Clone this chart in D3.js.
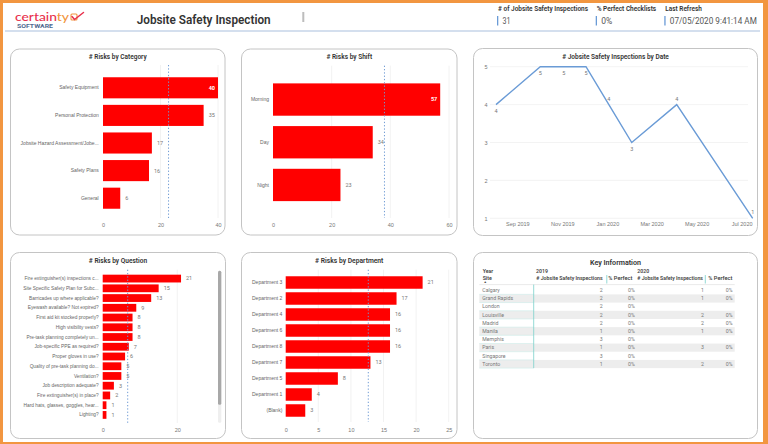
<!DOCTYPE html>
<html><head><meta charset="utf-8">
<script src="https://cdn.jsdelivr.net/npm/d3@7"></script>
<style>
html,body{margin:0;padding:0;background:#fff;overflow:hidden}
svg{display:block;font-family:"Segoe UI",Roboto,"Open Sans",sans-serif}
</style></head><body>
<svg id="c" width="768" height="444"></svg>
<script>
// ---------------- DATA ----------------
const reportTitle = "Jobsite Safety Inspection";
const kpiLabels = ["# of Jobsite Safety Inspections", "% Perfect Checklists", "Last Refresh"];
const kpiValues = ["31", "0%", "07/05/2020 9:41:14 AM"];

const categoryNames = ["Safety Equipment", "Personal Protection", "Jobsite Hazard Assessment/Jobe...", "Safety Plans", "General"];
const categoryRisks = [40, 35, 17, 16, 6];
const categoryTicks = [0, 20, 40];

const shiftNames = ["Morning", "Day", "Night"];
const shiftRisks = [57, 34, 23];
const shiftTicks = [0, 20, 40, 60];

const inspectionDates = ["2019-08-03", "2019-10-02", "2019-11-03", "2019-12-03", "2020-01-03", "2020-02-03", "2020-04-04", "2020-07-16"];
const inspectionCounts = [4, 5, 5, 5, 4, 3, 4, 1];
const dateTicks = ["2019-09-01", "2019-11-01", "2020-01-01", "2020-03-01", "2020-05-01", "2020-07-01"];
const dateTickLabels = ["Sep 2019", "Nov 2019", "Jan 2020", "Mar 2020", "May 2020", "Jul 2020"];
const countTicks = [1, 2, 3, 4, 5];

const questionNames = ["Fire extinguisher(s) inspections c...", "Site Specific Safety Plan for Subc...", "Barricades up where applicable?", "Eyewash available? Not expired?", "First aid kit stocked properly?", "High visibility vests?", "Pre-task planning completely un...", "Job-specific PPE as required?", "Proper gloves in use?", "Quality of pre-task planning do...", "Ventilation?", "Job description adequate?", "Fire extinguisher(s) in place?", "Hard hats, glasses, goggles, hear...", "Lighting?"];
const questionRisks = [21, 15, 13, 9, 8, 8, 8, 7, 6, 5, 5, 3, 2, 1, 1];
const questionTicks = [0, 20];
const questionAverage = 6.7; // average over all questions, including rows hidden below the scroll

const departmentNames = ["Department 3", "Department 2", "Department 4", "Department 6", "Department 8", "Department 7", "Department 5", "Department 1", "(Blank)"];
const departmentRisks = [21, 17, 16, 16, 16, 13, 8, 4, 3];
const departmentTicks = [0, 5, 10, 15, 20, 25];

const tableYears = ["2019", "2020"];
const siteNames = ["Calgary", "Grand Rapids", "London", "Louisville", "Madrid", "Manila", "Memphis", "Paris", "Singapore", "Toronto"];
const inspections2019 = [2, 2, 2, 2, 2, 1, 3, 1, 3, 1];
const perfect2019 = ["0%", "0%", "0%", "0%", "0%", "0%", "0%", "0%", "0%", "0%"];
const inspections2020 = [1, 1, null, 2, 2, 1, null, 3, null, 2];
const perfect2020 = ["0%", "0%", null, "0%", "0%", "0%", null, "0%", null, "0%"];

// ---------------- DRAW ----------------
const svg = d3.select("#c");
const RED = "#FF0000", BLUE = "#6A9BD6", ORANGE = "#F29640";

svg.append("rect").attr("width", 768).attr("height", 444).attr("fill", ORANGE);
svg.append("rect").attr("x", 3).attr("y", 3).attr("width", 760).attr("height", 439).attr("fill", "#fff");

function fitText(sel, w) { sel.attr("textLength", w).attr("lengthAdjust", "spacingAndGlyphs"); return sel; }

// ----- header -----
const logo = svg.append("text").attr("x", 15).attr("y", 20.6).attr("font-size", 12).attr("font-weight", 500)
  .attr("font-family", "Lato, Roboto, sans-serif");
logo.append("tspan").attr("fill", "#E8304C").text("certain");
logo.append("tspan").attr("fill", ORANGE).text("ty");
fitText(logo, 54);
svg.append("rect").attr("x", 71).attr("y", 14).attr("width", 6).attr("height", 6).attr("rx", 1)
  .attr("fill", "none").attr("stroke", ORANGE).attr("stroke-width", 1.1);
svg.append("path").attr("d", "M72,16.5 L74.5,19.5 L83.5,12.5").attr("fill", "none")
  .attr("stroke", "#E8304C").attr("stroke-width", 1.5).attr("stroke-linecap", "round");
fitText(svg.append("text").attr("x", 17).attr("y", 28.2).attr("font-size", 4.6).attr("font-weight", 700)
  .attr("fill", "#50698F").text("SOFTWARE"), 36);

fitText(svg.append("text").attr("x", 136.7).attr("y", 24).attr("font-size", 13).attr("font-weight", 600)
  .attr("fill", "#333").text(reportTitle), 134);
svg.append("rect").attr("x", 302.3).attr("y", 12).attr("width", 2).attr("height", 10).attr("fill", "#bdbdbd");

const kpiX = [497, 595.7, 664.3];
const kpiLabelW = [90, 59.5, 36.5];
const kpiValueW = [8, 11, 87];
kpiLabels.forEach((t, i) => {
  fitText(svg.append("text").attr("x", kpiX[i] + 1).attr("y", 11.2).attr("font-size", 6.5).attr("font-weight", 600)
    .attr("fill", "#333").text(t), kpiLabelW[i]);
  svg.append("rect").attr("x", kpiX[i]).attr("y", 16).attr("width", 1.3).attr("height", 9.5).attr("fill", BLUE);
  fitText(svg.append("text").attr("x", kpiX[i] + 5.5).attr("y", 24).attr("font-size", 8.5)
    .attr("fill", "#555").text(kpiValues[i]), kpiValueW[i]);
});
svg.append("line").attr("x1", 5).attr("x2", 760).attr("y1", 31).attr("y2", 31)
  .attr("stroke", "#A9BFDD").attr("stroke-width", 1.2);

// ----- panels -----
function panel(x, y, w, h, title, titleW, titleY) {
  svg.append("rect").attr("x", x).attr("y", y).attr("width", w).attr("height", h).attr("rx", 9)
    .attr("fill", "#fff").attr("stroke", "#c4c4c4").attr("stroke-width", 1);
  fitText(svg.append("text").attr("x", x + w / 2 - titleW / 2).attr("y", titleY).attr("dy", "0.35em")
    .attr("font-size", 7.5).attr("font-weight", 600).attr("fill", "#333").text(title), titleW);
}
panel(10.5, 49, 214.5, 186, "# Risks by Category", 58, 56.7);
panel(241.5, 49, 215.5, 186, "# Risks by Shift", 45.7, 56.7);
panel(473.5, 48.5, 284, 187, "# Jobsite Safety Inspections by Date", 106.7, 56.7);
panel(10.5, 252.5, 215, 186, "# Risks by Question", 58.3, 260.7);
panel(241.5, 252.5, 215.5, 186, "# Risks by Department", 68.3, 260.7);
panel(473.5, 252.5, 284, 186, "Key Information", 51, 262);

// ----- bar charts -----
function barChart(o) {
  const g = svg.append("g");
  const x = d3.scaleLinear().domain([0, o.ticks[o.ticks.length - 1]]).range([o.x0, o.xMax]);
  const y = d3.scaleBand().domain(o.names).range([o.yTop, o.yBot]).paddingInner(o.pad).paddingOuter(o.pad / 2);
  g.selectAll("line.grid").data(o.ticks.slice(1)).join("line").attr("class", "grid")
    .attr("x1", d => x(d)).attr("x2", d => x(d)).attr("y1", o.avgTop).attr("y2", o.avgBot)
    .attr("stroke", "#efefef").attr("stroke-width", 0.8);
  g.selectAll("rect.bar").data(o.values).join("rect").attr("class", "bar")
    .attr("x", x(0)).attr("y", (d, i) => y(o.names[i]))
    .attr("width", d => x(d) - x(0)).attr("height", y.bandwidth()).attr("fill", RED);
  const ya = g.append("g").attr("transform", `translate(${o.x0},0)`)
    .call(d3.axisLeft(y).tickSize(0).tickPadding(o.x0 - o.labelRight));
  ya.select(".domain").remove();
  ya.selectAll("text").attr("font-size", o.fs).attr("fill", "#666").attr("font-family", null);
  const xa = g.append("g").attr("transform", `translate(0,${o.tickY})`)
    .call(d3.axisBottom(x).tickValues(o.ticks).tickSize(0).tickPadding(0));
  xa.select(".domain").remove();
  xa.selectAll("text").attr("y", 0).attr("dy", "0.35em").attr("font-size", 5.5).attr("fill", "#777").attr("font-family", null);
  g.selectAll("text.val").data(o.values).join("text").attr("class", "val")
    .each(function (d, i) {
      const inside = x(d) + 16 > o.plotRight;
      d3.select(this).attr("x", inside ? x(d) - 3 : x(d) + 5)
        .attr("y", y(o.names[i]) + y.bandwidth() / 2).attr("dy", "0.35em")
        .attr("text-anchor", inside ? "end" : "start")
        .attr("font-size", 5.5).attr("font-weight", inside ? 700 : 400)
        .attr("fill", inside ? "#fff" : "#777").text(d);
    });
  g.append("line").attr("x1", x(o.avg)).attr("x2", x(o.avg)).attr("y1", o.avgTop).attr("y2", o.avgBot)
    .attr("stroke", "#6F9BD4").attr("stroke-width", 1).attr("stroke-dasharray", "1.3,2");
  return g;
}

barChart({ names: categoryNames, values: categoryRisks, ticks: categoryTicks, x0: 103, xMax: 218,
  yTop: 74, yBot: 212, pad: 0.236, labelRight: 98.7, avg: d3.mean(categoryRisks),
  avgTop: 65, avgBot: 218, tickY: 225, fs: 5, plotRight: 221 });
barChart({ names: shiftNames, values: shiftRisks, ticks: shiftTicks, x0: 273, xMax: 449,
  yTop: 78.2, yBot: 206.3, pad: 0.243, labelRight: 269, avg: d3.mean(shiftRisks),
  avgTop: 65.7, avgBot: 218, tickY: 225, fs: 5, plotRight: 452 });
barChart({ names: questionNames, values: questionRisks, ticks: questionTicks, x0: 102.7, xMax: 177.3,
  yTop: 273.7, yBot: 419.8, pad: 0.2, labelRight: 98.7, avg: questionAverage,
  avgTop: 269.7, avgBot: 423, tickY: 429.7, fs: 4.8, plotRight: 214 });
barChart({ names: departmentNames, values: departmentRisks, ticks: departmentTicks, x0: 285.7, xMax: 448.7,
  yTop: 274.5, yBot: 418.5, pad: 0.22, labelRight: 282.3, avg: d3.mean(departmentRisks),
  avgTop: 269.7, avgBot: 422, tickY: 429.7, fs: 5, plotRight: 452 });

svg.append("rect").attr("x", 218).attr("y", 270.7).attr("width", 3.3).attr("height", 152).attr("rx", 1.5).attr("fill", "#efefef");
svg.append("rect").attr("x", 218).attr("y", 270.7).attr("width", 3.3).attr("height", 134).attr("rx", 1.5).attr("fill", "#a8a8a8");

// ----- line chart -----
(function () {
  const parse = d3.timeParse("%Y-%m-%d");
  const dates = inspectionDates.map(parse);
  const g = svg.append("g");
  const x = d3.scaleTime().domain([dates[0], dates[dates.length - 1]]).range([496, 752.7]);
  const y = d3.scaleLinear().domain([1, 5]).range([218.3, 66.7]);
  g.selectAll("line.grid").data(countTicks).join("line")
    .attr("x1", 490).attr("x2", 748).attr("y1", d => y(d)).attr("y2", d => y(d))
    .attr("stroke", "#f0f0f0").attr("stroke-width", 0.8);
  const ya = g.append("g").attr("transform", "translate(487.5,0)")
    .call(d3.axisLeft(y).tickValues(countTicks).tickFormat(d3.format("d")).tickSize(0).tickPadding(0));
  ya.select(".domain").remove();
  ya.selectAll("text").attr("font-size", 5.5).attr("fill", "#777").attr("font-family", null);
  const xa = g.append("g").attr("transform", "translate(0,224.5)")
    .call(d3.axisBottom(x).tickValues(dateTicks.map(parse)).tickFormat((d, i) => dateTickLabels[i]).tickSize(0).tickPadding(0));
  xa.select(".domain").remove();
  xa.selectAll("text").attr("y", 0).attr("dy", "0.35em").attr("font-size", 5.5).attr("fill", "#777").attr("font-family", null);
  const pts = dates.map((d, i) => [d, inspectionCounts[i]]);
  g.append("path").datum(pts).attr("fill", "none").attr("stroke", BLUE).attr("stroke-width", 1.4)
    .attr("d", d3.line().x(d => x(d[0])).y(d => y(d[1])));
  const above = new Set([4, 6, 7]);
  g.selectAll("text.lbl").data(pts).join("text").attr("class", "lbl")
    .attr("x", d => x(d[0])).attr("y", (d, i) => y(d[1]) + (above.has(i) ? -6 : 6.5)).attr("dy", "0.35em")
    .attr("text-anchor", "middle").attr("font-size", 5.5).attr("fill", "#777").text(d => d[1]);
})();

// ----- table -----
(function () {
  const g = svg.append("g");
  const rowY = d3.scaleBand().domain(siteNames).range([286.2, 286.2 + siteNames.length * 8.19]);
  g.selectAll("rect.shade").data(siteNames.filter((d, i) => i % 2 === 1)).join("rect")
    .attr("x", 479.3).attr("width", 255.4).attr("y", d => rowY(d)).attr("height", rowY.bandwidth()).attr("fill", "#ededed");
  g.selectAll("line.rowsep").data(siteNames).join("line")
    .attr("x1", 479.3).attr("x2", 533.7).attr("y1", d => rowY(d) + rowY.bandwidth()).attr("y2", d => rowY(d) + rowY.bandwidth())
    .attr("stroke", "#cdecea").attr("stroke-width", 0.6);
  g.append("line").attr("x1", 479.3).attr("x2", 734.7).attr("y1", 284.6).attr("y2", 284.6).attr("stroke", "#dcdcdc").attr("stroke-width", 0.6);
  g.append("line").attr("x1", 533.7).attr("x2", 533.7).attr("y1", 284.6).attr("y2", rowY.range()[1]).attr("stroke", "#7ACFCA").attr("stroke-width", 0.8);
  [606.8, 705.3].forEach(xx => g.append("line").attr("x1", xx).attr("x2", xx).attr("y1", 275).attr("y2", 283.5)
    .attr("stroke", "#7ACFCA").attr("stroke-width", 0.8));
  const hdr = (t, xx, yy, anchor = "start") => g.append("text").attr("x", xx).attr("y", yy).attr("dy", "0.35em")
    .attr("text-anchor", anchor).attr("font-size", 5.2).attr("font-weight", 600).attr("fill", "#444").text(t);
  hdr("Year", 482.7, 271.3); hdr(tableYears[0], 536, 271.3); hdr(tableYears[1], 637.3, 271.3);
  hdr("Site", 482.7, 278.4);
  fitText(hdr("# Jobsite Safety Inspections", 536.3, 278.4), 66.4);
  fitText(hdr("% Perfect", 608.3, 278.4), 24);
  fitText(hdr("# Jobsite Safety Inspections", 637.3, 278.4), 65.7);
  fitText(hdr("% Perfect", 708.3, 278.4), 24);
  g.append("text").attr("x", 483.5).attr("y", 283).attr("font-size", 3.5).attr("fill", "#555").text("▲");
  const cell = (vals, xx) => g.selectAll(null).data(vals).join("text")
    .attr("x", xx).attr("y", (d, i) => rowY(siteNames[i]) + rowY.bandwidth() / 2).attr("dy", "0.35em")
    .attr("text-anchor", "end").attr("font-size", 5.2).attr("fill", "#777").text(d => d == null ? "" : d);
  g.selectAll("text.site").data(siteNames).join("text").attr("class", "site")
    .attr("x", 482.3).attr("y", d => rowY(d) + rowY.bandwidth() / 2).attr("dy", "0.35em")
    .attr("font-size", 5.2).attr("fill", "#777").text(d => d);
  cell(inspections2019, 602.7);
  cell(perfect2019, 634.7);
  cell(inspections2020, 704);
  cell(perfect2020, 732.5);
})();
</script>
</body></html>
